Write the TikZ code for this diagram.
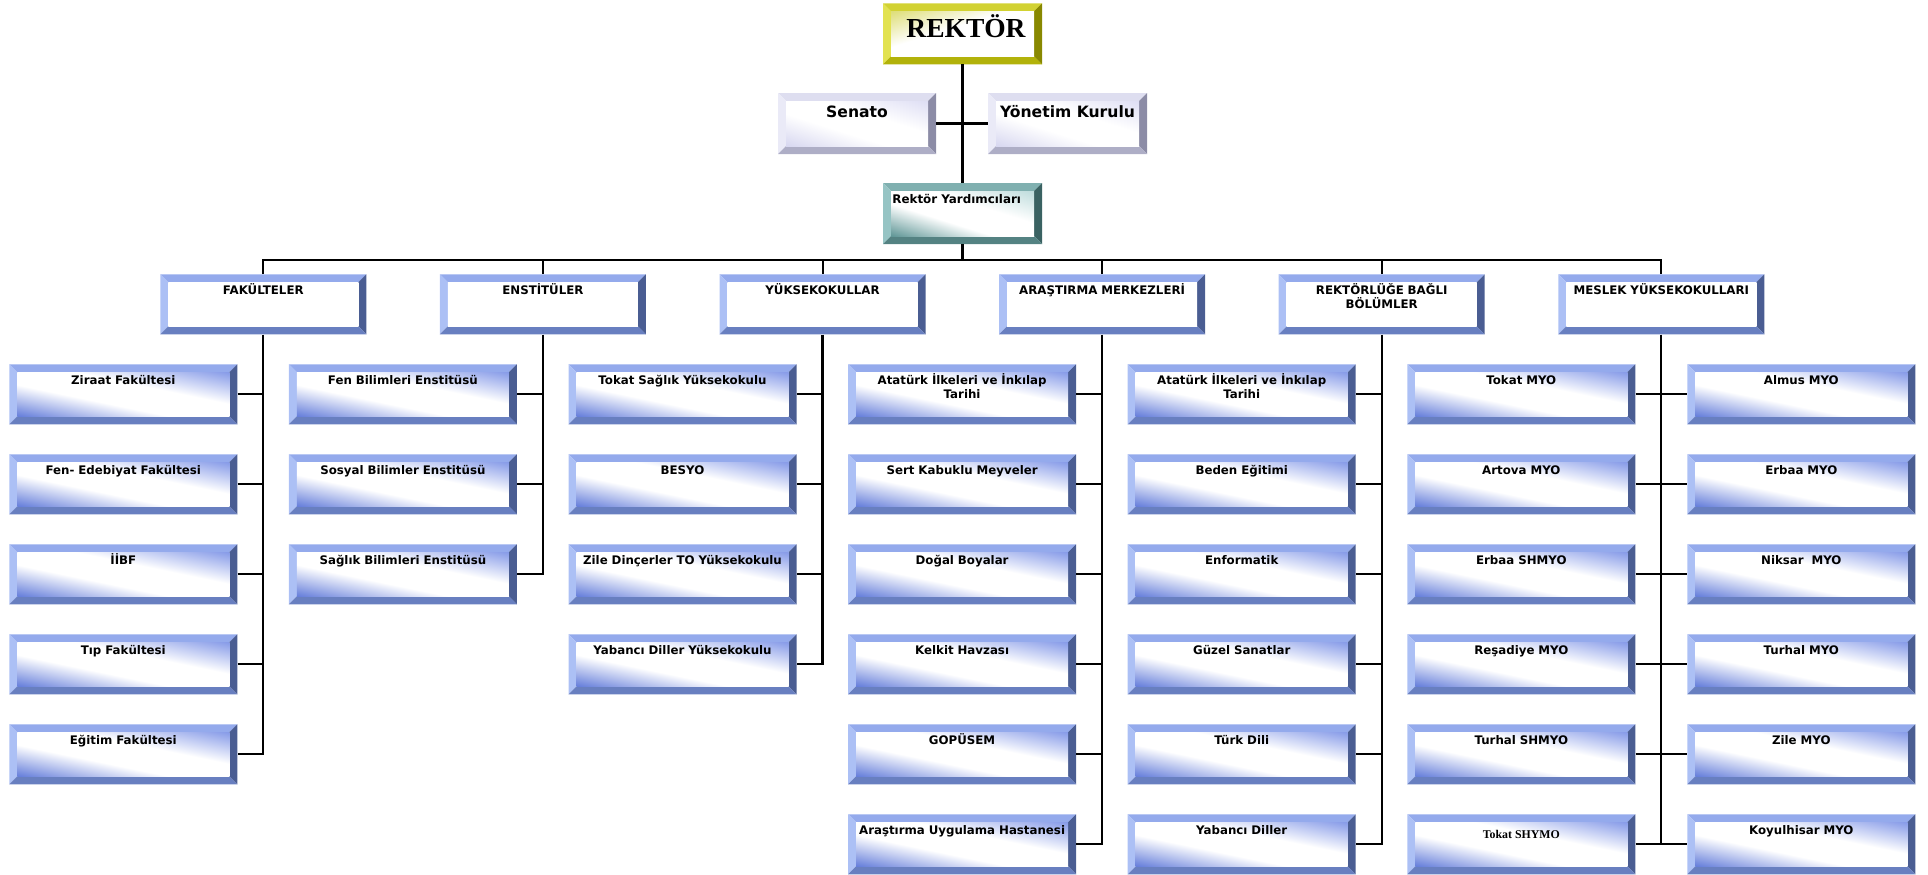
\documentclass[tikz,border=0pt]{standalone}
\usepackage{fontspec}
\setmainfont{DejaVu Sans}
\newfontfamily\serifbf{Liberation Serif}
\usetikzlibrary{calc}
\definecolor{bT}{RGB}{148,170,236}
\definecolor{bL}{RGB}{172,192,245}
\definecolor{bR}{RGB}{74,93,146}
\definecolor{bB}{RGB}{104,127,192}
\definecolor{yT}{RGB}{210,210,50}
\definecolor{yL}{RGB}{226,226,80}
\definecolor{yR}{RGB}{136,136,0}
\definecolor{yB}{RGB}{178,178,10}
\definecolor{lT}{RGB}{222,222,240}
\definecolor{lL}{RGB}{234,234,247}
\definecolor{lR}{RGB}{140,140,166}
\definecolor{lB}{RGB}{174,174,198}
\definecolor{tT}{RGB}{128,176,176}
\definecolor{tL}{RGB}{150,196,196}
\definecolor{tR}{RGB}{58,98,98}
\definecolor{tB}{RGB}{84,130,130}
% diagonal face: colour 1 at bottom-left, white band along the other diagonal, colour 2 at top-right
\newcommand\diagshade[7]{%
\pgfdeclarefunctionalshading{#1}{\pgfpointorigin}{\pgfpoint{100bp}{100bp}}{}{%
 add 50 sub 100 div
 dup 2.778 mul neg 1 add dup abs add 2 div
 exch 2.778 mul 1.778 sub dup abs add 2 div
 1 index #2 mul 1 index #5 mul add neg 1 add
 2 index #3 mul 2 index #6 mul add neg 1 add
 3 index #4 mul 3 index #7 mul add neg 1 add
 5 -2 roll pop pop
}}
\diagshade{kidsh}{0.608}{0.510}{0.145}{0.471}{0.392}{0.090}
\diagshade{lavsh}{0.157}{0.157}{0.059}{0.129}{0.129}{0.043}
\diagshade{tealsh}{0.627}{0.412}{0.412}{0.255}{0.137}{0.137}
\pgfdeclarefunctionalshading{yelsh}{\pgfpointorigin}{\pgfpoint{100bp}{100bp}}{}{%
 sub 50 add 100 div 2.5 mul neg 1 add dup abs add 2 div
 dup 0.129 mul neg 1 add
 1 index 0.129 mul neg 1 add
 2 index 0.529 mul neg 1 add
 4 -1 roll pop
}
\pgfdeclareverticalshading{whitesh}{100bp}{color(0bp)=(white); color(100bp)=(white)}
\tikzset{
  bevel/.style n args={5}{path picture={
    \coordinate (pA) at (path picture bounding box.north west);
    \coordinate (pB) at (path picture bounding box.north east);
    \coordinate (pC) at (path picture bounding box.south east);
    \coordinate (pD) at (path picture bounding box.south west);
    \coordinate (qA) at ([shift={(8pt,-8pt)}]pA);
    \coordinate (qB) at ([shift={(-8pt,-8pt)}]pB);
    \coordinate (qC) at ([shift={(-8pt,8pt)}]pC);
    \coordinate (qD) at ([shift={(8pt,8pt)}]pD);
    \fill[#1] (pA) -- (pB) -- (qB) -- (qA) -- cycle;
    \fill[#2] (pA) -- (qA) -- (qD) -- (pD) -- cycle;
    \fill[#3] (pB) -- (pC) -- (qC) -- (qB) -- cycle;
    \fill[#4] (pD) -- (qD) -- (qC) -- (pC) -- cycle;
    \shade[shading=#5] (qA) rectangle (qC);
  }},
  kidbox/.style={minimum width=228pt, minimum height=60pt, inner sep=0pt,
    bevel={bT}{bL}{bR}{bB}{kidsh}},
  headbox/.style={minimum width=206pt, minimum height=60pt, inner sep=0pt,
    bevel={bT}{bL}{bR}{bB}{whitesh}},
  lbl/.style={font=\fontsize{11.8}{14.5}\selectfont\bfseries, inner sep=0pt,
    anchor=base, align=center, text width=220pt},
  ln/.style={line width=2.3pt, black},
  sub/.style={line width=2pt, black},
}
\newcommand\kid[4]{%
  \node[kidbox] (#1) at (#2,#3) {};
  \node[lbl] (#1t) at ([yshift=-20pt]#1.north) {#4};
}
\newcommand\head[3]{%
  \node[headbox] (#1) at (#2,304.3) {};
  \node[lbl] (#1t) at ([yshift=-20pt]#1.north) {#3};
}
\begin{document}
\begin{tikzpicture}[x=1pt,y=-1pt]
\useasboundingbox (0,0) rectangle (1928,875);
% top
\node[minimum width=159pt, minimum height=61pt, inner sep=0pt,
  bevel={yT}{yL}{yR}{yB}{yelsh}] (rek) at (962.5,33.8) {};
\node[font={\serifbf\bfseries\fontsize{27.5}{30}\selectfont}, anchor=base, inner sep=0pt]
  (rekt) at ([xshift=3.5pt,yshift=-34.4pt]rek.north) {REKTÖR};
\node[minimum width=158pt, minimum height=61pt, inner sep=0pt,
  bevel={lT}{lL}{lR}{lB}{lavsh}] (sen) at (857,123.5) {};
\node[font=\fontsize{15.6}{18}\selectfont\bfseries, anchor=base, inner sep=0pt]
  (sent) at ([yshift=-24.7pt]sen.north) {Senato};
\node[minimum width=159pt, minimum height=61pt, inner sep=0pt,
  bevel={lT}{lL}{lR}{lB}{lavsh}] (yon) at (1067.5,123.5) {};
\node[font=\fontsize{15.6}{18}\selectfont\bfseries, anchor=base, inner sep=0pt]
  (yont) at ([yshift=-24.7pt]yon.north) {Yönetim Kurulu};
\node[minimum width=159pt, minimum height=61pt, inner sep=0pt,
  bevel={tT}{tL}{tR}{tB}{tealsh}] (ry) at (962.5,213.5) {};
\node[font=\fontsize{11.9}{14}\selectfont\bfseries, anchor=base, inner sep=0pt]
  (ryt) at ([xshift=-5.8pt,yshift=-21pt]ry.north) {Rektör Yardımcıları};
% level 2
\head{fak}{263.3}{FAKÜLTELER}
\head{ens}{542.9}{ENSTİTÜLER}
\head{yuk}{822.5}{YÜKSEKOKULLAR}
\head{ara}{1102.1}{ARAŞTIRMA MERKEZLERİ}
\head{reb}{1381.7}{REKTÖRLÜĞE BAĞLI\\BÖLÜMLER}
\head{mes}{1661.3}{MESLEK YÜKSEKOKULLARI}
% column 1
\kid{a1}{123.3}{394.3}{Ziraat Fakültesi}
\kid{a2}{123.3}{484.3}{Fen- Edebiyat Fakültesi}
\kid{a3}{123.3}{574.3}{İİBF}
\kid{a4}{123.3}{664.3}{Tıp Fakültesi}
\kid{a5}{123.3}{754.3}{Eğitim Fakültesi}
% column 2
\kid{b1}{402.9}{394.3}{Fen Bilimleri Enstitüsü}
\kid{b2}{402.9}{484.3}{Sosyal Bilimler Enstitüsü}
\kid{b3}{402.9}{574.3}{Sağlık Bilimleri Enstitüsü}
% column 3
\kid{c1}{682.5}{394.3}{Tokat Sağlık Yüksekokulu}
\kid{c2}{682.5}{484.3}{BESYO}
\kid{c3}{682.5}{574.3}{Zile Dinçerler TO Yüksekokulu}
\kid{c4}{682.5}{664.3}{Yabancı Diller Yüksekokulu}
% column 4
\kid{d1}{962.1}{394.3}{Atatürk İlkeleri ve İnkılap\\Tarihi}
\kid{d2}{962.1}{484.3}{Sert Kabuklu Meyveler}
\kid{d3}{962.1}{574.3}{Doğal Boyalar}
\kid{d4}{962.1}{664.3}{Kelkit Havzası}
\kid{d5}{962.1}{754.3}{GOPÜSEM}
\kid{d6}{962.1}{844.3}{Araştırma Uygulama Hastanesi}
% column 5
\kid{e1}{1241.7}{394.3}{Atatürk İlkeleri ve İnkılap\\Tarihi}
\kid{e2}{1241.7}{484.3}{Beden Eğitimi}
\kid{e3}{1241.7}{574.3}{Enformatik}
\kid{e4}{1241.7}{664.3}{Güzel Sanatlar}
\kid{e5}{1241.7}{754.3}{Türk Dili}
\kid{e6}{1241.7}{844.3}{Yabancı Diller}
% column 6
\kid{f1}{1521.3}{394.3}{Tokat MYO}
\kid{f2}{1521.3}{484.3}{Artova MYO}
\kid{f3}{1521.3}{574.3}{Erbaa SHMYO}
\kid{f4}{1521.3}{664.3}{Reşadiye MYO}
\kid{f5}{1521.3}{754.3}{Turhal SHMYO}
\node[kidbox] (f6) at (1521.3,844.3) {};
\node[font={\serifbf\bfseries\fontsize{11.85}{14}\selectfont}, anchor=base, inner sep=0pt]
  (f6t) at ([yshift=-24.7pt]f6.north) {Tokat SHYMO};
% column 7
\kid{g1}{1801.3}{394.3}{Almus MYO}
\kid{g2}{1801.3}{484.3}{Erbaa MYO}
\kid{g3}{1801.3}{574.3}{Niksar\ \ MYO}
\kid{g4}{1801.3}{664.3}{Turhal MYO}
\kid{g5}{1801.3}{754.3}{Zile MYO}
\kid{g6}{1801.3}{844.3}{Koyulhisar MYO}
% connectors top
\coordinate (bus) at (962.5,259.5);
\draw[ln] (rek.south) -- (ry.north);
\draw[ln] (sen.east) -- (yon.west);
\draw[ln] (ry.south) -- (bus);
\draw[sub] (fak.north) |- (bus) -| (mes.north);
\foreach \h in {ens,yuk,ara,reb}
  \draw[sub] (\h.north) -- (\h.north |- bus);
% columns
\draw[ln] (fak.south) |- (a5.east);
\foreach \k in {a1,a2,a3,a4}
  \draw[sub] (\k.east) -- (\k.east -| fak.south);
\draw[ln] (ens.south) |- (b3.east);
\foreach \k in {b1,b2}
  \draw[sub] (\k.east) -- (\k.east -| ens.south);
\draw[ln] (yuk.south) |- (c4.east);
\foreach \k in {c1,c2,c3}
  \draw[sub] (\k.east) -- (\k.east -| yuk.south);
\draw[ln] (ara.south) |- (d6.east);
\foreach \k in {d1,d2,d3,d4,d5}
  \draw[sub] (\k.east) -- (\k.east -| ara.south);
\draw[ln] (reb.south) |- (e6.east);
\foreach \k in {e1,e2,e3,e4,e5}
  \draw[sub] (\k.east) -- (\k.east -| reb.south);
\draw[ln] (mes.south) -- (mes.south |- f6.east);
\foreach \k/\m in {f1/g1,f2/g2,f3/g3,f4/g4,f5/g5,f6/g6}
  \draw[sub] (\k.east) -- (\m.west);
\end{tikzpicture}
\end{document}
